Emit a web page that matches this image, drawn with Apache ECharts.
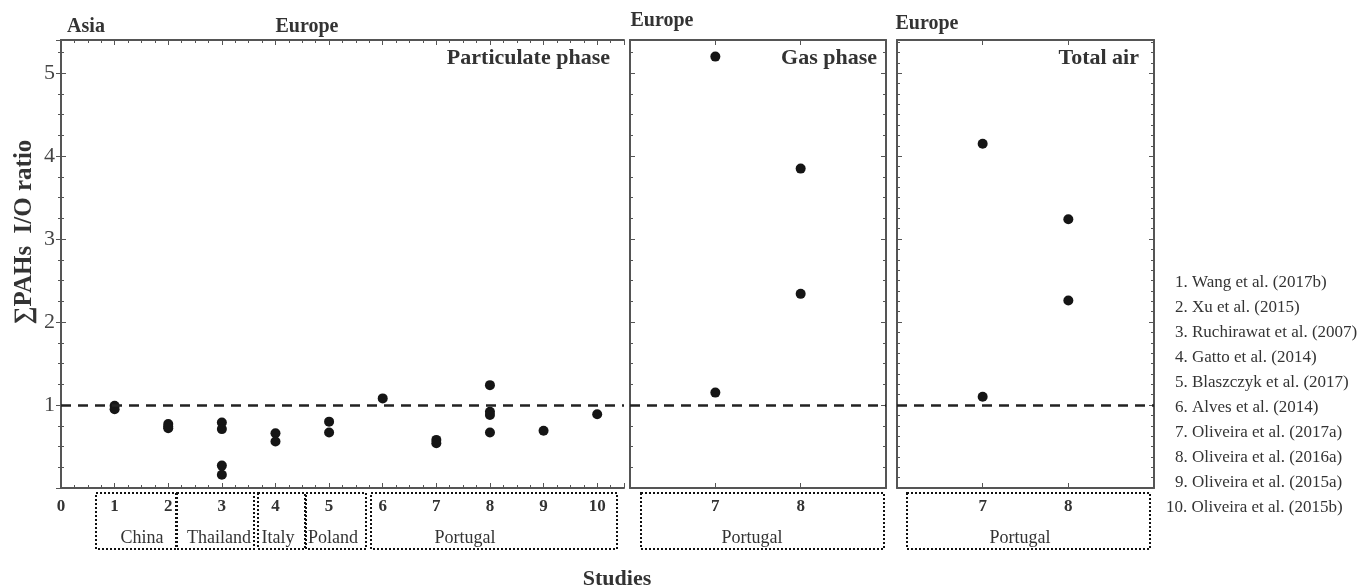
<!DOCTYPE html>
<html>
<head>
<meta charset="utf-8">
<script src="https://cdn.jsdelivr.net/npm/echarts@6/dist/echarts.min.js"></script>
<style>
  html, body { margin: 0; padding: 0; background: #fff; }
  #chart { width: 1367px; height: 588px; }
</style>
</head>
<body>
<div id="chart"></div>
<script>
// study number -> I/O ratio
const particulateStudy = [1, 1, 2, 2, 2, 3, 3, 3, 3, 4, 4, 5, 5, 6, 7, 7, 8, 8, 8, 8, 9, 10];
const particulateRatio = [0.99, 0.95, 0.77, 0.74, 0.72, 0.79, 0.71, 0.27, 0.16, 0.66, 0.56, 0.80, 0.67, 1.08, 0.58, 0.54, 1.24, 0.92, 0.88, 0.67, 0.69, 0.89];
const gasStudy = [7, 7, 8, 8];
const gasRatio = [5.20, 1.15, 3.85, 2.34];
const totalStudy = [7, 7, 8, 8];
const totalRatio = [4.15, 1.10, 3.24, 2.26];
const refRatio = 1;

const panelTitles = ['Particulate phase', 'Gas phase', 'Total air'];
const studyRefs = [
  '1. Wang et al. (2017b)',
  '2. Xu et al. (2015)',
  '3. Ruchirawat et al. (2007)',
  '4. Gatto et al. (2014)',
  '5. Blaszczyk et al. (2017)',
  '6. Alves et al. (2014)',
  '7. Oliveira et al. (2017a)',
  '8. Oliveira et al. (2016a)',
  '9. Oliveira et al. (2015a)',
  '10. Oliveira et al. (2015b)'
];
// country boxes under the x axes: [label, left, right, labelX]
const countryBoxes = [
  ['China', 96, 176, 142],
  ['Thailand', 177, 254, 219],
  ['Italy', 258, 305, 278],
  ['Poland', 306, 366, 333],
  ['Portugal', 371, 617, 465],
  ['Portugal', 641, 884, 752],
  ['Portugal', 907, 1150, 1020]
];
const regionLabels = [['Asia', 86, 27], ['Europe', 307, 27], ['Europe', 662, 21], ['Europe', 927, 24]];

const serif = '"Liberation Serif", "DejaVu Serif", serif';
const frameColor = '#555';

const grids = [
  { left: 61, top: 40, width: 563, height: 448 },
  { left: 630, top: 40, width: 256, height: 448 },
  { left: 897, top: 40, width: 257, height: 448 }
];
const titleRight = [610, 877, 1139];
const xRanges = [[0, 10.5], [6, 9], [6, 9]];
const yMax = 5.4;

const xAxes = [];
const yAxes = [];
grids.forEach((g, i) => {
  const [min, max] = xRanges[i];
  ['bottom', 'top'].forEach(pos => {
    xAxes.push({
      type: 'value', gridIndex: i, position: pos, min: min, max: max, interval: 1,
      axisLine: { show: true, onZero: false, lineStyle: { color: frameColor, width: 2 } },
      axisTick: { show: true, inside: true, length: 5, lineStyle: { color: frameColor } },
      minorTick: { show: i === 0, splitNumber: 4, length: 3, lineStyle: { color: frameColor } },
      splitLine: { show: false },
      axisLabel: {
        show: pos === 'bottom',
        showMaxLabel: i === 0 ? false : null,
        margin: 10,
        fontFamily: serif, fontSize: 17, fontWeight: 'bold', color: '#333',
        formatter: v => (i === 0 ? (Number.isInteger(v) ? String(v) : '') : (v === 7 || v === 8 ? String(v) : ''))
      }
    });
  });
  ['left', 'right'].forEach(pos => {
    yAxes.push({
      type: 'value', gridIndex: i, position: pos, min: 0, max: yMax, interval: 1,
      axisLine: { show: true, lineStyle: { color: frameColor, width: 2 } },
      axisTick: { show: true, inside: true, length: 5, lineStyle: { color: frameColor } },
      minorTick: { show: true, splitNumber: i === 2 ? 8 : 4, length: 3, lineStyle: { color: frameColor } },
      splitLine: { show: false },
      axisLabel: {
        show: i === 0 && pos === 'left', showMaxLabel: false, showMinLabel: false, margin: 6,
        fontFamily: serif, fontSize: 22, color: '#444'
      }
    });
  });
});

const panelData = [
  particulateStudy.map((s, k) => [s, particulateRatio[k]]),
  gasStudy.map((s, k) => [s, gasRatio[k]]),
  totalStudy.map((s, k) => [s, totalRatio[k]])
];

const series = panelData.map((d, i) => ({
  type: 'scatter', xAxisIndex: i * 2, yAxisIndex: i * 2,
  data: d, symbol: 'circle', symbolSize: 10,
  itemStyle: { color: '#151515', opacity: 1 },
  markLine: {
    silent: true, symbol: ['none', 'none'], label: { show: false },
    lineStyle: { color: '#222', width: 2.5, type: [10, 7] },
    data: [{ yAxis: refRatio }]
  }
}));

const graphic = [];
panelTitles.forEach((t, i) => {
  graphic.push({
    type: 'text', x: titleRight[i], y: 58,
    style: { text: t, fontFamily: serif, fontSize: 22, fontWeight: 'bold', fill: '#333', align: 'right', verticalAlign: 'middle' }
  });
});
regionLabels.forEach(([t, x, y]) => {
  graphic.push({
    type: 'text', x: x, y: y,
    style: { text: t, fontFamily: serif, fontSize: 20, fontWeight: 'bold', fill: '#333', align: 'center', verticalAlign: 'middle' }
  });
});
countryBoxes.forEach(([t, l, r, cx]) => {
  graphic.push({
    type: 'rect', shape: { x: l, y: 493, width: r - l, height: 56 },
    style: { fill: 'none', stroke: '#111', lineWidth: 2, lineDash: [2, 2] }
  });
  graphic.push({
    type: 'text', x: cx, y: 538,
    style: { text: t, fontFamily: serif, fontSize: 18, fill: '#333', align: 'center', verticalAlign: 'middle' }
  });
});
studyRefs.forEach((t, k) => {
  graphic.push({
    type: 'text', x: k === 9 ? 1166 : 1175, y: 283 + k * 24.9,
    style: { text: t, fontFamily: serif, fontSize: 17, fill: '#333', verticalAlign: 'middle' }
  });
});
graphic.push({
  type: 'text', x: 25, y: 232, rotation: Math.PI / 2,
  style: { text: '∑PAHs  I/O ratio', fontFamily: serif, fontSize: 25, fontWeight: 'bold', fill: '#333', align: 'center', verticalAlign: 'middle' }
});
graphic.push({
  type: 'text', x: 617, y: 579,
  style: { text: 'Studies', fontFamily: serif, fontSize: 22, fontWeight: 'bold', fill: '#333', align: 'center', verticalAlign: 'middle' }
});

const myChart = echarts.init(document.getElementById('chart'));
myChart.setOption({
  animation: false,
  backgroundColor: '#fff',
  grid: grids,
  xAxis: xAxes,
  yAxis: yAxes,
  series: series,
  graphic: graphic
});
</script>
</body>
</html>
